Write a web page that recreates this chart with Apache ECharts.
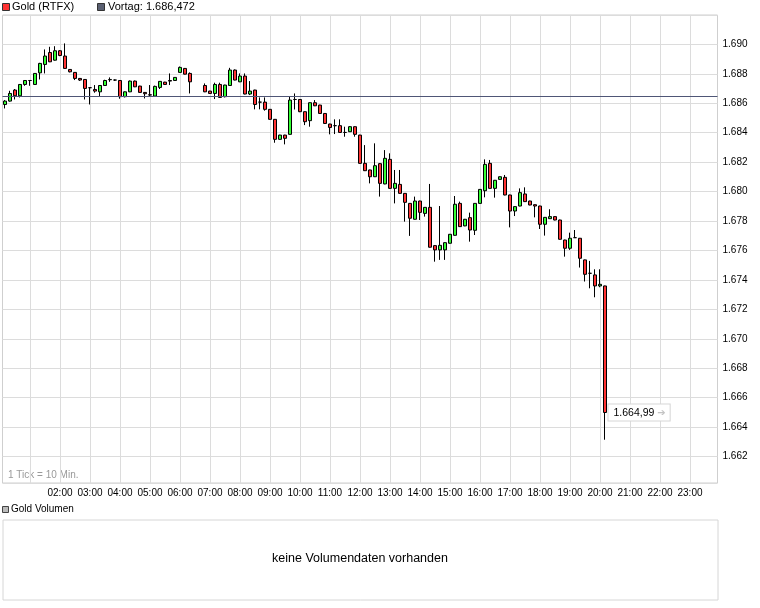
<!DOCTYPE html>
<html><head><meta charset="utf-8">
<script src="https://cdn.jsdelivr.net/npm/echarts@6/dist/echarts.min.js"></script>
<style>html,body{margin:0;padding:0;background:#fff}#c{width:760px;height:608px}</style>
</head><body><div id="c"></div>
<script>
// ---- data ----
const seriesName = 'Gold (RTFX)';
const prevClose = 1686.472;
const prevLabel = 'Vortag: 1.686,472';
const lastLabel = '1.664,99';
const tickNote = '1 Tick = 10 Min.';
const volTitle = 'Gold Volumen';
const volNote = 'keine Volumendaten vorhanden';

// 10-minute slots 00:10 .. 23:50
const categories = [];
for (let m = 10; m <= 23 * 60 + 50; m += 10) {
  categories.push(String(Math.floor(m / 60)).padStart(2, '0') + ':' + String(m % 60).padStart(2, '0'));
}

const open = [1685.92,1686.15,1686.90,1686.51,1687.28,1687.55,1687.28,1688.07,1688.64,1689.45,
  1688.93,1689.57,1689.21,1688.30,1688.10,1687.69,1687.62,1687.06,1686.94,1686.78,
  1687.21,1687.60,1687.58,1687.55,1686.45,1686.78,1687.51,1687.17,1686.74,1686.58,
  1686.49,1687.08,1687.44,1687.55,1687.55,1688.10,1688.37,1688.03,null,null,
  1687.21,1686.83,1686.67,1687.28,1686.45,1687.21,1688.26,1687.46,1687.85,1686.63,
  1686.90,1686.08,1686.08,1685.59,1684.91,1683.55,1683.84,1683.89,1686.26,1686.26,
  1685.43,1684.82,1686.04,1685.88,1685.31,1684.59,1684.48,1684.48,1684.02,1684.07,
  1684.41,1683.84,1681.92,1681.47,1681.01,1681.90,1680.52,1682.19,1680.22,1680.49,
  1679.88,1679.20,1678.12,1679.36,1678.52,1678.93,1676.33,1676.04,1676.04,1676.49,
  1677.03,1679.20,1677.67,1678.23,1677.37,1679.20,1680.06,1681.92,1680.22,1680.83,
  1680.97,1679.77,1678.68,1679.02,1679.84,1679.36,1679.11,1679.02,1677.78,1678.16,
  1678.30,1678.07,1676.71,1676.15,1676.87,1676.83,1675.36,1674.45,1674.34,1673.59,
  1673.59];
const close = [1686.15,1686.67,1686.51,1687.28,1687.55,1687.55,1688.03,1688.71,1689.21,1688.82,
  1689.57,1689.25,1688.37,1688.14,1687.69,1687.58,1687.01,1687.06,1686.83,1687.21,
  1687.55,1687.62,1687.58,1686.45,1686.78,1687.51,1687.12,1686.74,1686.65,1686.56,
  1687.15,1687.49,1687.28,1687.51,1687.76,1688.44,1687.98,1687.46,null,null,
  1686.78,1686.67,1687.28,1686.40,1687.24,1688.26,1687.58,1687.85,1686.63,1686.83,
  1685.92,1686.08,1685.59,1684.91,1683.55,1683.84,1683.62,1686.22,1686.26,1685.43,
  1684.75,1686.04,1685.83,1685.31,1684.63,1684.36,1684.48,1684.02,1684.02,1684.41,
  1683.89,1681.92,1681.42,1681.01,1681.76,1680.56,1682.26,1680.22,1680.56,1679.88,
  1679.27,1678.19,1679.36,1678.59,1678.93,1676.22,1676.04,1676.35,1676.53,1677.10,
  1679.14,1677.62,1678.12,1677.39,1679.20,1680.15,1681.85,1680.22,1680.77,1681.01,
  1679.77,1678.68,1678.98,1679.93,1679.32,1679.09,1679.02,1677.78,1678.25,1678.30,
  1678.07,1676.76,1676.15,1676.83,1676.87,1675.47,1674.38,1674.45,1673.59,1673.70,
  1664.99];
const low = [1685.65,1686.11,1686.26,1686.40,1687.19,1687.19,1687.25,1687.62,1688.03,1688.80,
  1688.90,1689.20,1688.35,1688.10,1687.58,1687.52,1686.26,1685.92,1686.72,1686.49,
  1687.19,1687.46,1687.52,1686.31,1686.40,1686.76,1687.10,1686.72,1686.33,1686.49,
  1686.47,1686.97,1687.26,1687.24,1687.53,1688.08,1687.96,1686.67,null,null,
  1686.76,1686.65,1686.29,1686.38,1686.40,1687.19,1687.56,1687.44,1686.61,1686.56,
  1685.59,1685.59,1685.50,1684.89,1683.32,1683.53,1683.21,1683.87,1685.58,1685.40,
  1684.52,1684.41,1685.81,1685.29,1684.61,1683.89,1683.91,1684.00,1683.73,1684.05,
  1683.73,1681.90,1681.40,1680.56,1680.99,1679.66,1680.50,1680.20,1679.20,1679.86,
  1677.96,1676.99,1678.10,1678.07,1678.30,1676.20,1675.24,1675.36,1675.36,1676.47,
  1677.01,1677.60,1677.65,1676.60,1677.05,1679.18,1679.61,1680.20,1679.59,1680.81,
  1679.75,1677.57,1678.34,1679.00,1679.30,1679.07,1678.25,1677.46,1677.01,1678.14,
  1678.05,1676.74,1675.58,1676.04,1676.85,1674.84,1673.89,1673.43,1672.82,1673.50,
  1663.14];
const high = [1686.22,1686.85,1686.97,1687.30,1687.58,1687.55,1688.05,1688.75,1689.66,1689.84,
  1689.88,1689.62,1690.07,1688.32,1688.12,1687.72,1687.64,1687.10,1687.24,1687.23,
  1687.60,1687.76,1687.62,1687.58,1686.80,1687.55,1687.55,1687.19,1686.76,1687.24,
  1687.20,1687.51,1687.46,1688.03,1687.78,1688.50,1688.40,1688.10,null,null,
  1687.35,1686.85,1687.40,1687.40,1687.26,1688.41,1688.30,1688.03,1688.03,1687.51,
  1686.92,1686.40,1686.40,1685.61,1684.93,1683.86,1683.86,1686.49,1686.67,1686.28,
  1685.45,1686.06,1686.22,1685.90,1685.33,1684.61,1684.91,1684.91,1684.41,1684.45,
  1684.43,1683.86,1683.16,1681.49,1683.28,1681.94,1682.82,1682.60,1681.47,1681.47,
  1679.90,1679.22,1679.66,1679.38,1678.95,1680.52,1676.35,1679.02,1676.55,1677.12,
  1679.70,1679.32,1678.14,1678.57,1679.22,1680.17,1682.19,1682.15,1680.79,1681.03,
  1681.13,1679.79,1679.00,1680.22,1680.29,1679.38,1679.13,1679.04,1678.27,1678.80,
  1678.32,1678.09,1676.73,1677.21,1677.39,1676.85,1675.38,1675.29,1674.72,1674.72,
  1673.61];

// ---- build ----
const FONT = '"Liberation Sans", Arial, sans-serif';
const candleData = categories.map((c, i) =>
  (i < open.length && open[i] != null) ? [open[i], close[i], low[i], high[i]] : '-');
const lastIdx = open.length - 1;

const chart = echarts.init(document.getElementById('c'), null, {renderer: 'canvas'});
const isHour = v => v.slice(3) === '00';
chart.setOption({
  animation: false,
  backgroundColor: '#fff',
  textStyle: {fontFamily: FONT},
  grid: {left: 2.5, right: 42.5, top: 15, bottom: 125, show: true, borderColor: '#cfcfcf', borderWidth: 1},
  xAxis: {
    type: 'category', data: categories, boundaryGap: true,
    axisLine: {show: false}, axisTick: {show: false},
    axisLabel: {
      interval: (i, v) => isHour(v) && v >= '02:00',
      color: '#000', fontSize: 10, margin: 5, fontFamily: FONT
    },
    splitLine: {show: true, alignWithLabel: true, interval: (i, v) => isHour(v), lineStyle: {color: '#dcdcdc', width: 1}}
  },
  yAxis: {
    type: 'value', position: 'right', min: 1660.2, max: 1692, splitNumber: 16, scale: true,
    axisLine: {show: false}, axisTick: {show: false},
    splitLine: {show: true, lineStyle: {color: '#dcdcdc', width: 1}},
    axisLabel: {
      color: '#000', fontSize: 10, margin: 5, fontFamily: FONT, showMinLabel: false, showMaxLabel: false,
      formatter: v => {
        if (Math.abs(v / 2 - Math.round(v / 2)) > 1e-6) return '';
        const s = String(Math.round(v));
        return s[0] + '.' + s.slice(1);
      }
    }
  },
  series: [{
    name: seriesName, type: 'candlestick', data: candleData, barWidth: 4,
    itemStyle: {color: '#33ff33', color0: '#ff3333', borderColor: '#000', borderColor0: '#000', borderColorDoji: '#000', borderWidth: 1},
    markLine: {
      silent: true, symbol: ['none', 'none'], label: {show: false},
      lineStyle: {color: '#4f5676', width: 1, type: 'solid'},
      data: [{yAxis: prevClose}]
    },
    markPoint: {
      silent: true, symbol: 'rect', symbolSize: 1, itemStyle: {color: 'rgba(0,0,0,0)'},
      data: [{coord: [categories[lastIdx], close[lastIdx]]}],
      label: {
        show: true, position: 'right', distance: 3,
        formatter: lastLabel + ' {a|\u2794}',
        color: '#000', fontSize: 10.5, fontFamily: FONT,
        backgroundColor: '#fff', borderColor: '#d6d6d6', borderWidth: 1, padding: [3, 4, 2, 5],
        rich: {a: {color: '#c4c4c4', fontSize: 10, fontFamily: '"DejaVu Sans", sans-serif'}}
      }
    }
  }],
  graphic: [
    {type: 'rect', left: 2, top: 3, shape: {width: 7, height: 7}, style: {fill: '#ff3333', stroke: '#333', lineWidth: 1}},
    {type: 'text', left: 12, top: 1, style: {text: seriesName, fill: '#000', font: '11px ' + FONT}},
    {type: 'rect', left: 97, top: 3, shape: {width: 7, height: 7}, style: {fill: '#5a6072', stroke: '#333', lineWidth: 1}},
    {type: 'text', left: 108, top: 1, style: {text: prevLabel, fill: '#000', font: '11px ' + FONT}},
    {type: 'text', left: 8, top: 470, style: {text: tickNote, fill: '#999', font: '10px ' + FONT}},
    {type: 'rect', left: 2, top: 506, shape: {width: 6, height: 6}, style: {fill: '#bbbbbb', stroke: '#444', lineWidth: 1}},
    {type: 'text', left: 11, top: 504, style: {text: volTitle, fill: '#000', font: '10px ' + FONT}},
    {type: 'rect', left: 2.5, top: 519.5, shape: {width: 715, height: 80}, style: {fill: '#fff', stroke: '#d6d6d6', lineWidth: 1}},
    {type: 'text', x: 360, y: 559, style: {text: volNote, fill: '#000', font: '12.5px ' + FONT, textAlign: 'center', textVerticalAlign: 'middle'}}
  ]
});
</script></body></html>
